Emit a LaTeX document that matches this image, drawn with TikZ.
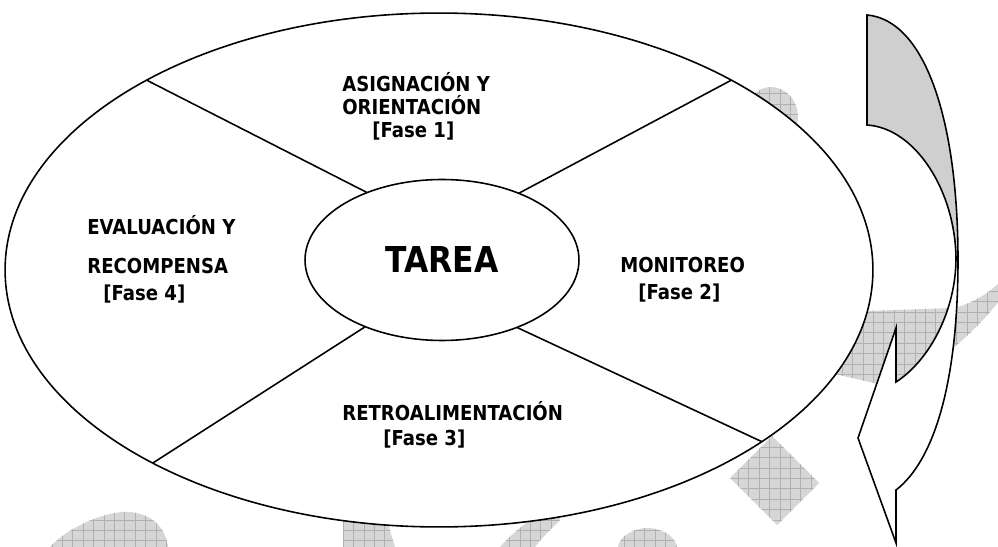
\documentclass[tikz,border=0pt]{standalone}
\usepackage{fontspec}
\setmainfont{DejaVu Sans}[FakeStretch=0.88]
\usetikzlibrary{shapes.geometric}
\tikzstyle{cicloE} = [draw, ellipse, fill=white, line width=0.9pt, inner sep=0pt, outer sep=0pt]
\tikzstyle{faseT} = [align=left, inner sep=0pt, anchor=base west, font=\fontsize{11.7}{13.3}\selectfont\bfseries]
\tikzstyle{linea} = [draw, line width=0.9pt]
\tikzstyle{marca} = [fill=gray!32]
\tikzstyle{rejilla} = [draw=gray!62, line width=0.35pt]

\begin{document}
\begin{tikzpicture}[x=0.02cm, y=-0.02cm]
    \useasboundingbox (0,0) rectangle (998,547);
    % marca de agua
    \begin{scope}
        \clip (771,117) ellipse [x radius=0.54cm, y radius=0.6cm]
            (772,436) -- (819,483) -- (777,525) -- (730,478) -- cycle
            (835,312) -- (955,308) .. controls (975,302) and (990,292) .. (1000,282) -- (1000,300) .. controls (980,325) and (955,350) .. (920,372) -- (895,388) -- (835,374) -- cycle
            (50,547) .. controls (70,525) and (110,510) .. (130,512) .. controls (150,514) and (165,525) .. (168,547) -- cycle
            (343,500) -- (343,547) -- (395,547) .. controls (390,530) and (385,515) .. (383,500) -- cycle
            (500,547) .. controls (515,530) and (535,515) .. (556,505) -- (560,520) .. controls (550,530) and (540,540) .. (535,547) -- cycle
            (618,547) .. controls (620,535) and (635,528) .. (647,528) .. controls (660,528) and (675,535) .. (677,547) -- cycle;
        \fill[marca] (0,0) rectangle (998,547);
        \draw[rejilla, step=0.208cm] (0,0) grid (998,547);
    \end{scope}

    \node [cicloE, minimum width=17.36cm, minimum height=10.28cm] (ciclo) at (439,270) {};
    \node [cicloE, minimum width=5.48cm, minimum height=3.22cm, font=\fontsize{20.3}{24}\selectfont\bfseries] (tarea) at (442,260) {TAREA};

    \draw [linea] (tarea.138.6) -- (ciclo.147.1);
    \draw [linea] (tarea.41.8) -- (ciclo.33.1);
    \draw [linea] (tarea.221.4) -- (ciclo.214.7);
    \draw [linea] (tarea.318.6) -- (ciclo.332);

    % anclaje en la ultima linea
    \node [faseT] (fase1) at (342,138) {ASIGNACIÓN Y\\ORIENTACIÓN\\\hspace*{0.6cm}[Fase 1]};
    \node [faseT] (fase2) at (620,300) {MONITOREO\\[2.1pt]\hspace*{0.36cm}[Fase 2]};
    \node [faseT] (fase3) at (342,445) {RETROALIMENTACIÓN\\[0.9pt]\hspace*{0.82cm}[Fase 3]};
    \node [faseT] (fase4) at (87,301) {EVALUACIÓN Y\\[8.9pt]RECOMPENSA\\[2.1pt]\hspace*{0.32cm}[Fase 4]};

    % flecha curva
    \fill[white] (867,15) .. controls (925,20) and (958,120) .. (958,260) .. controls (958,380) and (935,460) .. (896,490) -- (896,543) -- (858,438) -- (896,328) -- (896,382) .. controls (930,360) and (956,310) .. (956,258) .. controls (955,190) and (915,128) .. (867,125) -- cycle;
    \fill[gray!38] (867,15) .. controls (925,20) and (958,120) .. (958,260) -- (956,258) .. controls (955,190) and (915,128) .. (867,125) -- cycle;
    \draw[linea, line join=miter] (867,15) .. controls (925,20) and (958,120) .. (958,260) .. controls (958,380) and (935,460) .. (896,490) -- (896,543) -- (858,438) -- (896,328) -- (896,382) .. controls (930,360) and (956,310) .. (956,258) .. controls (955,190) and (915,128) .. (867,125) -- cycle;
\end{tikzpicture}
\end{document}
